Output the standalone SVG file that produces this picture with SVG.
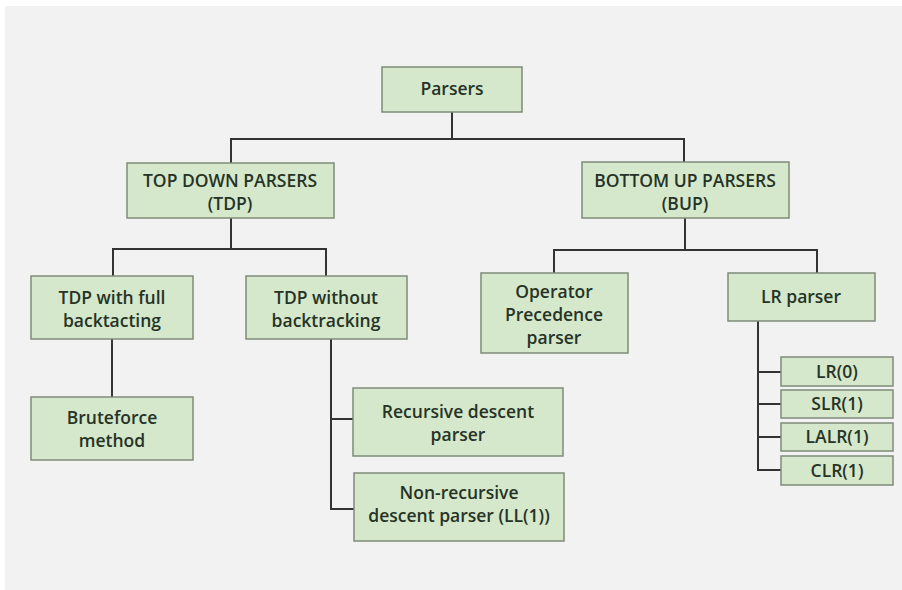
<svg xmlns="http://www.w3.org/2000/svg" width="902" height="590" viewBox="0 0 902 590">
<style>
.box{fill:#d5e8cb;stroke:#7f8c7a;stroke-width:1.5}
.t{font-family:"Open Sans","Noto Sans","Liberation Sans",sans-serif;font-weight:600;font-size:17.5px;fill:#263326;text-anchor:middle}
.c{fill:none;stroke:#333;stroke-width:2}
</style>
<rect x="0" y="0" width="902" height="590" fill="#ffffff"/>
<rect x="5" y="6" width="897" height="584" fill="#f2f2f2"/>
<g id="connectors">
<path class="c" d="M452 112V139M231 163V139H684V162"/>
<path class="c" d="M231 218V249M113 276V249H326V276"/>
<path class="c" d="M685 218V250M554 273V250H817V273"/>
<path class="c" d="M112 339V397"/>
<path class="c" d="M331 339V509H354M331 419H353"/>
<path class="c" d="M758 321V470H781M758 372H781M758 404H781M758 437H781"/>
</g>
<g id="parsers"><rect class="box" x="382" y="67" width="140" height="45"/><text class="t" x="452" y="95">Parsers</text></g>
<g id="tdp"><rect class="box" x="127" y="163" width="207" height="55"/><text class="t" x="230" y="187">TOP DOWN PARSERS</text><text class="t" x="230" y="210">(TDP)</text></g>
<g id="bup"><rect class="box" x="582" y="162" width="207" height="56"/><text class="t" x="685" y="187">BOTTOM UP PARSERS</text><text class="t" x="685" y="210">(BUP)</text></g>
<g id="tdp-full"><rect class="box" x="31" y="276" width="162" height="63"/><text class="t" x="112" y="304">TDP with full</text><text class="t" x="112" y="327">backtacting</text></g>
<g id="tdp-without"><rect class="box" x="246" y="276" width="161" height="63"/><text class="t" x="326" y="304">TDP without</text><text class="t" x="326" y="327">backtracking</text></g>
<g id="operator"><rect class="box" x="481" y="273" width="147" height="80"/><text class="t" x="554" y="298">Operator</text><text class="t" x="554" y="321">Precedence</text><text class="t" x="554" y="344">parser</text></g>
<g id="lr-parser"><rect class="box" x="728" y="273" width="147" height="48"/><text class="t" x="801" y="303">LR parser</text></g>
<g id="bruteforce"><rect class="box" x="31" y="397" width="162" height="63"/><text class="t" x="112" y="424">Bruteforce</text><text class="t" x="112" y="447">method</text></g>
<g id="recursive"><rect class="box" x="353" y="388" width="210" height="68"/><text class="t" x="458" y="418">Recursive descent</text><text class="t" x="458" y="441">parser</text></g>
<g id="nonrecursive"><rect class="box" x="354" y="473" width="210" height="68"/><text class="t" x="459" y="499">Non-recursive</text><text class="t" x="459" y="522">descent parser (LL(1))</text></g>
<g id="lr0"><rect class="box" x="781" y="357" width="112" height="29"/><text class="t" x="837" y="378">LR(0)</text></g>
<g id="slr1"><rect class="box" x="781" y="390" width="112" height="28"/><text class="t" x="837" y="410">SLR(1)</text></g>
<g id="lalr1"><rect class="box" x="781" y="423" width="112" height="28"/><text class="t" x="837" y="443">LALR(1)</text></g>
<g id="clr1"><rect class="box" x="781" y="456" width="112" height="29"/><text class="t" x="837" y="477">CLR(1)</text></g>
</svg>
